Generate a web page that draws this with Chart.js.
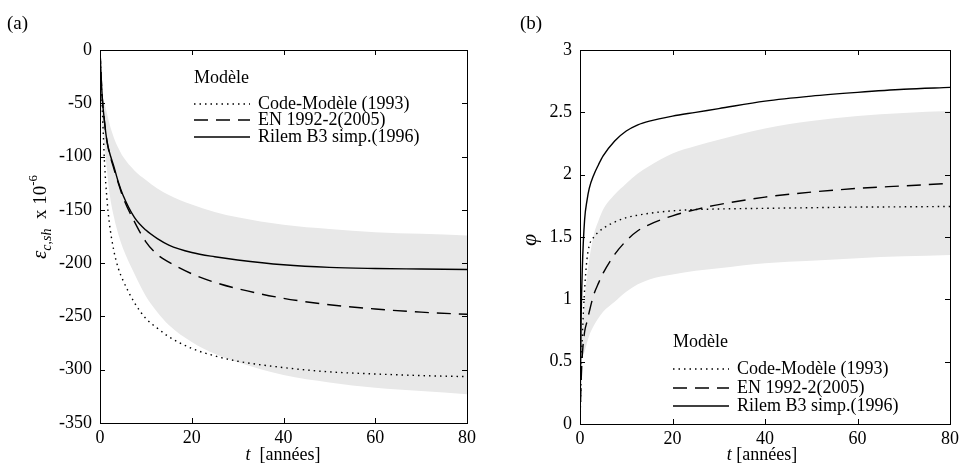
<!DOCTYPE html>
<html>
<head>
<meta charset="utf-8">
<script src="https://cdn.jsdelivr.net/npm/chart.js@4.4.1/dist/chart.umd.min.js"></script>
<style>
    body { margin: 0; background: #fff; }
    #wrap { position: relative; width: 963px; height: 471px; }
    canvas { position: absolute; top: 0; }
    #chartA { left: 0; }
    #chartB { left: 480px; }
</style>
</head>
<body>
<div id="wrap">
    <canvas id="chartA" width="480" height="471"></canvas>
    <canvas id="chartB" width="483" height="471"></canvas>
</div>
<script>
// time grid (années), shared by every series
const years = [0, 0.25, 0.5, 1, 1.5, 2, 3, 4, 5, 7.5, 10, 12.5, 15, 20, 25, 30, 40, 50, 60, 70, 80];
const xTicks = [0, 20, 40, 60, 80];

// (a) retrait  eps_c,sh  x 1e-6
const shrinkCode  = [0, -28, -55, -107, -139, -161, -188, -205, -216, -237, -252, -261, -269, -280, -287, -292, -298, -302, -304, -305.5, -306.5];
const shrinkEN    = [0, -25, -45, -68, -85, -96, -111, -125, -138, -161, -180, -192, -199, -210, -218, -224, -233, -239, -243, -246, -248];
const shrinkRilem = [0, -25, -45, -68, -85, -95, -109, -124, -136, -157, -169, -177, -183, -190, -194, -197, -201.5, -204, -205, -205.5, -206];
const shrinkBandHi = [-38, -40, -43, -50, -59, -68, -82, -92, -100, -113, -122, -130, -136, -145, -152, -157, -164, -168, -171, -172.5, -174];
const shrinkBandLo = [-42, -55, -70, -90, -112, -132, -156, -173, -186, -210, -231, -246, -258, -274, -285, -293, -305, -312, -317, -320, -323];
const shrinkTicks = [0, -50, -100, -150, -200, -250, -300, -350];

// (b) fluage  phi
const creepCode  = [0, 0.4, 0.7, 1.08, 1.32, 1.43, 1.5, 1.54, 1.57, 1.62, 1.655, 1.675, 1.69, 1.71, 1.72, 1.725, 1.73, 1.735, 1.74, 1.742, 1.745];
const creepEN    = [0, 0.35, 0.55, 0.74, 0.82, 0.9, 1.04, 1.13, 1.21, 1.36, 1.47, 1.55, 1.6, 1.67, 1.72, 1.76, 1.82, 1.86, 1.89, 1.91, 1.93];
const creepRilem = [0, 0.85, 1.25, 1.64, 1.79, 1.89, 2.0, 2.08, 2.15, 2.27, 2.35, 2.40, 2.43, 2.47, 2.50, 2.53, 2.59, 2.63, 2.66, 2.685, 2.70];
const creepBandHi = [0.5, 0.65, 0.78, 1.0, 1.18, 1.32, 1.52, 1.63, 1.72, 1.84, 1.93, 2.01, 2.07, 2.17, 2.23, 2.28, 2.37, 2.43, 2.47, 2.495, 2.51];
const creepBandLo = [0.48, 0.52, 0.55, 0.58, 0.65, 0.71, 0.79, 0.85, 0.9, 0.98, 1.06, 1.12, 1.16, 1.2, 1.23, 1.25, 1.29, 1.31, 1.33, 1.345, 1.356];
const creepTicks = [0, 0.5, 1, 1.5, 2, 2.5, 3];

const legendTitle = 'Modèle';
const seriesNames = ['Code-Modèle (1993)', 'EN 1992-2(2005)', 'Rilem B3 simp.(1996)'];
const seriesDash = [[1.5, 4], [14, 8], []];

const SERIF = '"Liberation Serif", "Times New Roman", serif';
const BAND = 'rgb(232,232,232)';

function pts(xs, ys) {
    return xs.map((x, i) => ({ x: x, y: ys[i] }));
}

function lineSet(label, values, dash) {
    return {
        label: label,
        data: pts(years, values),
        borderColor: '#000',
        borderWidth: 1.4,
        borderDash: dash,
        pointRadius: 0,
        fill: false,
        cubicInterpolationMode: 'monotone'
    };
}

// frame, inward ticks, titles and legend
function decorPlugin(cfg) {
    return {
        id: 'decor',
        afterDraw(chart) {
            const ctx = chart.ctx;
            const a = chart.chartArea;
            const xs = chart.scales.x, ys = chart.scales.y;
            ctx.save();
            ctx.strokeStyle = '#000';
            ctx.lineWidth = 1;
            ctx.strokeRect(a.left + 0.5, a.top + 0.5, a.right - a.left, a.bottom - a.top);
            ctx.beginPath();
            xTicks.forEach(v => {
                const px = Math.round(xs.getPixelForValue(v)) + 0.5;
                ctx.moveTo(px, a.bottom); ctx.lineTo(px, a.bottom - 5);
                ctx.moveTo(px, a.top); ctx.lineTo(px, a.top + 5);
            });
            cfg.yTicks.forEach(v => {
                const py = Math.round(ys.getPixelForValue(v)) + 0.5;
                ctx.moveTo(a.left, py); ctx.lineTo(a.left + 5, py);
                ctx.moveTo(a.right, py); ctx.lineTo(a.right - 5, py);
            });
            ctx.stroke();

            ctx.fillStyle = '#000';
            ctx.textBaseline = 'middle';

            // panel label
            ctx.font = '19px ' + SERIF;
            ctx.textAlign = 'left';
            ctx.fillText(cfg.panel, cfg.panelX, 24);

            // x title: italic t + [années]
            ctx.font = 'italic 18px ' + SERIF;
            const tW = ctx.measureText('t').width;
            ctx.font = '18px ' + SERIF;
            const rest = cfg.xGap + '[années]';
            const rW = ctx.measureText(rest).width;
            let x0 = cfg.xTitleX - (tW + rW) / 2;
            ctx.font = 'italic 18px ' + SERIF;
            ctx.fillText('t', x0, 455);
            ctx.font = '18px ' + SERIF;
            ctx.fillText(rest, x0 + tW, 455);

            // y title
            cfg.drawYTitle(ctx);

            // legend
            const L = cfg.legend;
            ctx.font = '18px ' + SERIF;
            ctx.fillText(legendTitle, L.x, L.titleY);
            seriesNames.forEach((name, i) => {
                ctx.beginPath();
                ctx.setLineDash(seriesDash[i]);
                ctx.lineWidth = 1.4;
                ctx.moveTo(L.x, L.rows[i]);
                ctx.lineTo(L.x + 56, L.rows[i]);
                ctx.stroke();
                ctx.setLineDash([]);
                ctx.fillText(name, L.x + 64, L.rows[i]);
            });
            ctx.restore();
        }
    };
}

function drawRotated(ctx, cx, cy, pieces) {
    ctx.save();
    ctx.translate(cx, cy);
    ctx.rotate(-Math.PI / 2);
    ctx.textAlign = 'left';
    ctx.textBaseline = 'alphabetic';
    let total = 0;
    pieces.forEach(p => { ctx.font = p.font; p.w = ctx.measureText(p.t).width; total += p.w; });
    let x = -total / 2;
    pieces.forEach(p => {
        ctx.font = p.font;
        ctx.fillText(p.t, x, 6 + p.dy);
        x += p.w;
    });
    ctx.restore();
}

function makeChart(id, cfg) {
    return new Chart(document.getElementById(id), {
        type: 'line',
        data: {
            datasets: [
                { label: 'lo', data: pts(years, cfg.bandLo), borderWidth: 0, pointRadius: 0, fill: false, cubicInterpolationMode: 'monotone' },
                { label: 'hi', data: pts(years, cfg.bandHi), borderWidth: 0, pointRadius: 0, fill: '-1', backgroundColor: BAND, cubicInterpolationMode: 'monotone' },
                lineSet(seriesNames[0], cfg.code, seriesDash[0]),
                lineSet(seriesNames[1], cfg.en, seriesDash[1]),
                lineSet(seriesNames[2], cfg.rilem, seriesDash[2])
            ]
        },
        options: {
            responsive: false,
            animation: false,
            events: [],
            layout: { padding: { top: 50, right: cfg.padRight, left: 0, bottom: 0 } },
            plugins: {
                legend: { display: false },
                tooltip: { enabled: false },
                filler: { drawTime: 'beforeDatasetsDraw' }
            },
            scales: {
                x: {
                    type: 'linear', min: 0, max: 80,
                    afterFit: s => { s.height = cfg.xHeight; },
                    afterBuildTicks: s => { s.ticks = xTicks.map(v => ({ value: v })); },
                    grid: { display: false, drawTicks: false },
                    border: { display: false },
                    ticks: { color: '#000', font: { family: SERIF, size: 18 }, padding: 4, maxRotation: 0,
                             callback: v => String(v) }
                },
                y: {
                    type: 'linear', min: cfg.yMin, max: cfg.yMax,
                    afterFit: s => { s.width = 100; },
                    afterBuildTicks: s => { s.ticks = cfg.yTicks.map(v => ({ value: v })); },
                    grid: { display: false, drawTicks: false },
                    border: { display: false },
                    ticks: { color: '#000', font: { family: SERIF, size: 18 }, padding: 8,
                             callback: v => String(v) }
                }
            }
        },
        plugins: [decorPlugin(cfg)]
    });
}

makeChart('chartA', {
    code: shrinkCode, en: shrinkEN, rilem: shrinkRilem,
    bandHi: shrinkBandHi, bandLo: shrinkBandLo,
    yMin: -350, yMax: 0, yTicks: shrinkTicks,
    padRight: 6, xHeight: 48,
    panel: '(a)', panelX: 7,
    xTitleX: 283, xGap: '  ',
    legend: { x: 194, titleY: 78, rows: [104, 120, 137] },
    drawYTitle: ctx => drawRotated(ctx, 40, 217, [
        { t: 'ε', font: 'italic 21px ' + SERIF, dy: 0 },
        { t: 'c,sh', font: 'italic 14px ' + SERIF, dy: 5 },
        { t: '  x 10', font: '19px ' + SERIF, dy: 0 },
        { t: '-6', font: '13px ' + SERIF, dy: -9 }
    ])
});

makeChart('chartB', {
    code: creepCode, en: creepEN, rilem: creepRilem,
    bandHi: creepBandHi, bandLo: creepBandLo,
    yMin: 0, yMax: 3, yTicks: creepTicks,
    padRight: 8, xHeight: 47,
    panel: '(b)', panelX: 40,
    xTitleX: 282, xGap: ' ',
    legend: { x: 193, titleY: 342, rows: [369, 388, 406] },
    drawYTitle: ctx => drawRotated(ctx, 50, 240, [
        { t: 'φ', font: 'italic 22px ' + SERIF, dy: 0 }
    ])
});
</script>
</body>
</html>
